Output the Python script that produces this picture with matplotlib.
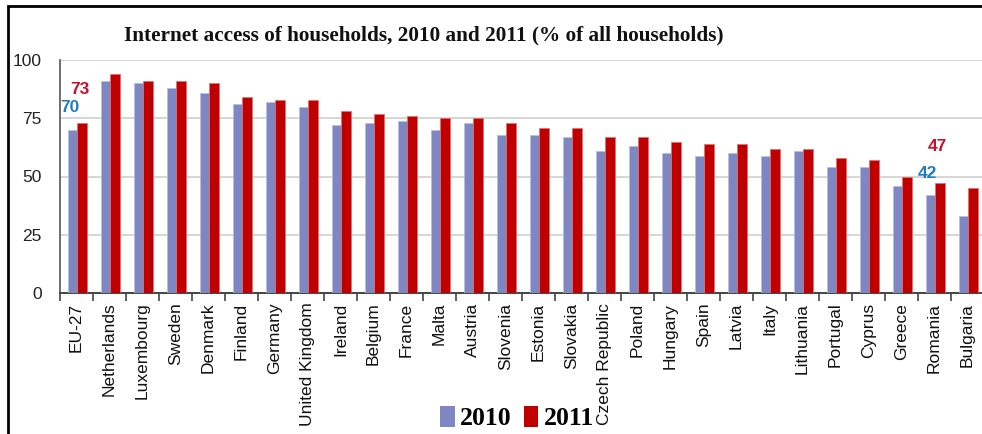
import matplotlib
matplotlib.use("Agg")
import matplotlib.pyplot as plt
from matplotlib.patches import Rectangle, Patch
from matplotlib.ticker import FixedLocator
import numpy as np

countries = ["EU-27", "Netherlands", "Luxembourg", "Sweden", "Denmark", "Finland",
             "Germany", "United Kingdom", "Ireland", "Belgium", "France", "Malta",
             "Austria", "Slovenia", "Estonia", "Slovakia", "Czech Republic", "Poland",
             "Hungary", "Spain", "Latvia", "Italy", "Lithuania", "Portugal", "Cyprus",
             "Greece", "Romania", "Bulgaria"]
v2010 = [70, 91, 90, 88, 86, 81, 82, 80, 72, 73, 74, 70, 73, 68, 68, 67, 61, 63,
         60, 59, 60, 59, 61, 54, 54, 46, 42, 33]
v2011 = [73, 94, 91, 91, 90, 84, 83, 83, 78, 77, 76, 75, 75, 73, 71, 71, 67, 67,
         65, 64, 64, 62, 62, 58, 57, 50, 47, 45]
yticks = [0, 25, 50, 75, 100]
title = "Internet access of households, 2010 and 2011 (% of all households)"

BLUE = "#7f87c3"
RED = "#c00000"
LBLUE = "#1f7cc4"
LRED = "#c8102e"

W, H = 982, 434
fig = plt.figure(figsize=(W / 100, H / 100), dpi=100)
ax = fig.add_axes([60 / W, 1 - 293 / H, 924 / W, (293 - 60) / H])

x = np.arange(len(countries))
ax.bar(x - 0.26, v2010, width=0.275, align="edge", color=BLUE, edgecolor="#b9bde0", linewidth=0.5, zorder=3)
ax.bar(x + 0.015, v2011, width=0.295, align="edge", color=RED, edgecolor="#e07070", linewidth=0.5, zorder=3)

ax.set_xlim(-0.5, len(countries) - 0.5)
ax.set_ylim(0, 100)
ax.set_yticks(yticks)
ax.set_yticklabels([str(t) for t in yticks], fontfamily="Liberation Sans", fontsize=12.5, color="#222222")
ax.tick_params(axis="y", length=0, pad=13)
ax.yaxis.grid(True, color="#d0d0d0", linewidth=1.2, zorder=0)
ax.set_axisbelow(True)

ax.set_xticks(x)
ax.set_xticklabels(countries, rotation=90, fontfamily="Liberation Sans", fontsize=12.5,
                   va="top", ha="center", color="#111111")
ax.tick_params(axis="x", which="major", length=0, pad=7)
ax.xaxis.set_minor_locator(FixedLocator(np.arange(-0.5, len(countries), 1.0)))
ax.tick_params(axis="x", which="minor", length=6, width=1.2, color="#444444")

for s in ["top", "right"]:
    ax.spines[s].set_visible(False)
ax.spines["left"].set_color("#555555")
ax.spines["left"].set_linewidth(1.2)
ax.spines["bottom"].set_color("#444444")
ax.spines["bottom"].set_linewidth(1.4)

# value annotations
lab = dict(fontsize=12.5, fontweight="bold", fontfamily="Liberation Sans", va="center")
ax.text(-0.5, v2010[0] + 9.4, str(v2010[0]), color=LBLUE, ha="left", **lab)
ax.text(0.1, v2011[0] + 14.5, str(v2011[0]), color=LRED, ha="center", **lab)
ax.text(25.8, v2010[26] + 9.5, str(v2010[26]), color=LBLUE, ha="center", **lab)
ax.text(26.1, v2011[26] + 16, str(v2011[26]), color=LRED, ha="center", **lab)

fig.text(424 / W, 1 - 35 / H, title, fontfamily="Liberation Serif", fontweight="bold",
         fontsize=15.3, ha="center", va="center", color="#111111")

handles = [Patch(facecolor=BLUE, edgecolor="none"), Patch(facecolor=RED, edgecolor="none")]
fig.legend(handles, ["2010", "2011"], loc="center", bbox_to_anchor=(517 / W, 1 - 418 / H),
           ncol=2, frameon=False, prop={"family": "Liberation Serif", "weight": "bold", "size": 18.5},
           handlelength=0.55, handleheight=0.9, handletextpad=0.2, columnspacing=0.5,
           borderpad=0, borderaxespad=0)

fig.patches.append(Rectangle((8 / W, -0.1), 1.2, 1 - 6 / H + 0.1, transform=fig.transFigure,
                             fill=False, edgecolor="black", linewidth=2, zorder=10))

fig.savefig("out.png", dpi=100)
